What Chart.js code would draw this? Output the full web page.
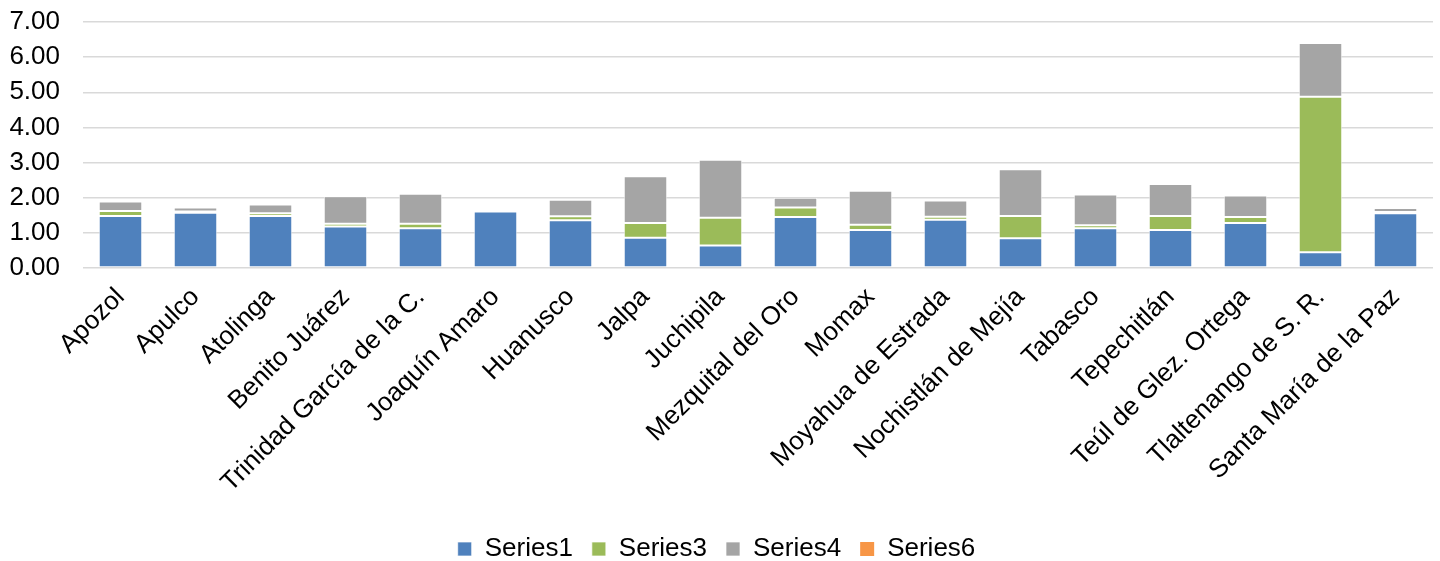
<!DOCTYPE html>
<html>
<head>
<meta charset="utf-8">
<script src="https://cdn.jsdelivr.net/npm/chart.js@4.4.1/dist/chart.umd.min.js"></script>
<style>
  html, body { margin: 0; padding: 0; background: #ffffff; }
  #wrap { width: 1440px; height: 561px; position: relative; }
</style>
</head>
<body>
<div id="wrap"><canvas id="chart"></canvas></div>
<script>
// Categories (municipios)
const categories = [
  "Apozol", "Apulco", "Atolinga", "Benito Juárez", "Trinidad García de la C.",
  "Joaquín Amaro", "Huanusco", "Jalpa", "Juchipila", "Mezquital del Oro",
  "Momax", "Moyahua de Estrada", "Nochistlán de Mejía", "Tabasco",
  "Tepechitlán", "Teúl de Glez. Ortega", "Tlaltenango de S. R.", "Santa María de la Paz"
];

// Series values
const series1 = [1.48, 1.57, 1.48, 1.18, 1.13, 1.61, 1.36, 0.86, 0.64, 1.45, 1.08, 1.37, 0.85, 1.13, 1.08, 1.28, 0.45, 1.56];
const series3 = [0.14, 0.04, 0.08, 0.08, 0.13, 0.03, 0.11, 0.42, 0.79, 0.27, 0.15, 0.09, 0.63, 0.09, 0.40, 0.17, 4.42, 0.03];
const series4 = [0.27, 0.11, 0.25, 0.78, 0.85, 0.02, 0.47, 1.33, 1.65, 0.28, 0.97, 0.46, 1.33, 0.87, 0.91, 0.61, 1.53, 0.12];
const series6 = [0, 0, 0, 0, 0, 0, 0, 0, 0, 0, 0, 0, 0, 0, 0, 0, 0, 0];

const yTicks = [0, 1, 2, 3, 4, 5, 6, 7];

const fontFamily = "Arial, 'Liberation Sans', Helvetica, sans-serif";

function makeSet(label, data, color, border) {
  return {
    label: label,
    data: data,
    backgroundColor: color,
    borderColor: "rgba(255,255,255,0.7)",
    borderWidth: border,
    borderSkipped: false,
    barPercentage: 0.58,
    categoryPercentage: 1.0,
  };
}

new Chart(document.getElementById("chart"), {
  type: "bar",
  data: {
    labels: categories,
    datasets: [
      makeSet("Series1", series1, "#4f81bd", 1),
      makeSet("Series3", series3, "#9bbb59", 1),
      makeSet("Series4", series4, "#a5a5a5", 1),
      makeSet("Series6", series6, "#f79646", 0),
    ],
  },
  options: {
    responsive: true,
    maintainAspectRatio: false,
    animation: false,
    layout: {
      padding: { top: 22, right: 7, left: 0, bottom: -11 },
    },
    scales: {
      x: {
        stacked: true,
        grid: { display: false },
        border: { display: false },
        ticks: {
          color: "#000000",
          font: { family: fontFamily, size: 26 },
          minRotation: 45,
          maxRotation: 45,
          autoSkip: false,
          padding: 6,
        },
        afterFit: (scale) => { scale.height = 249; },
      },
      y: {
        stacked: true,
        min: 0,
        max: 7,
        afterBuildTicks: (scale) => {
          scale.ticks = yTicks.map((v) => ({ value: v }));
        },
        grid: {
          color: "#d9d9d9",
          lineWidth: 1.5,
          drawTicks: false,
        },
        border: { display: false },
        ticks: {
          color: "#000000",
          font: { family: fontFamily, size: 26 },
          padding: 23,
          autoSkip: false,
          callback: (v) => Number(v).toFixed(2),
        },
        afterFit: (scale) => {
          scale.width = 83;
          // the tick padding would otherwise push the plot top down
          scale.paddingTop = 0;
          scale.paddingBottom = 0;
        },
      },
    },
    plugins: {
      legend: {
        position: "bottom",
        labels: {
          color: "#000000",
          font: { family: fontFamily, size: 26 },
          boxWidth: 14,
          boxHeight: 14,
          padding: 19,
        },
      },
      tooltip: { enabled: false },
    },
  },
});
</script>
</body>
</html>
